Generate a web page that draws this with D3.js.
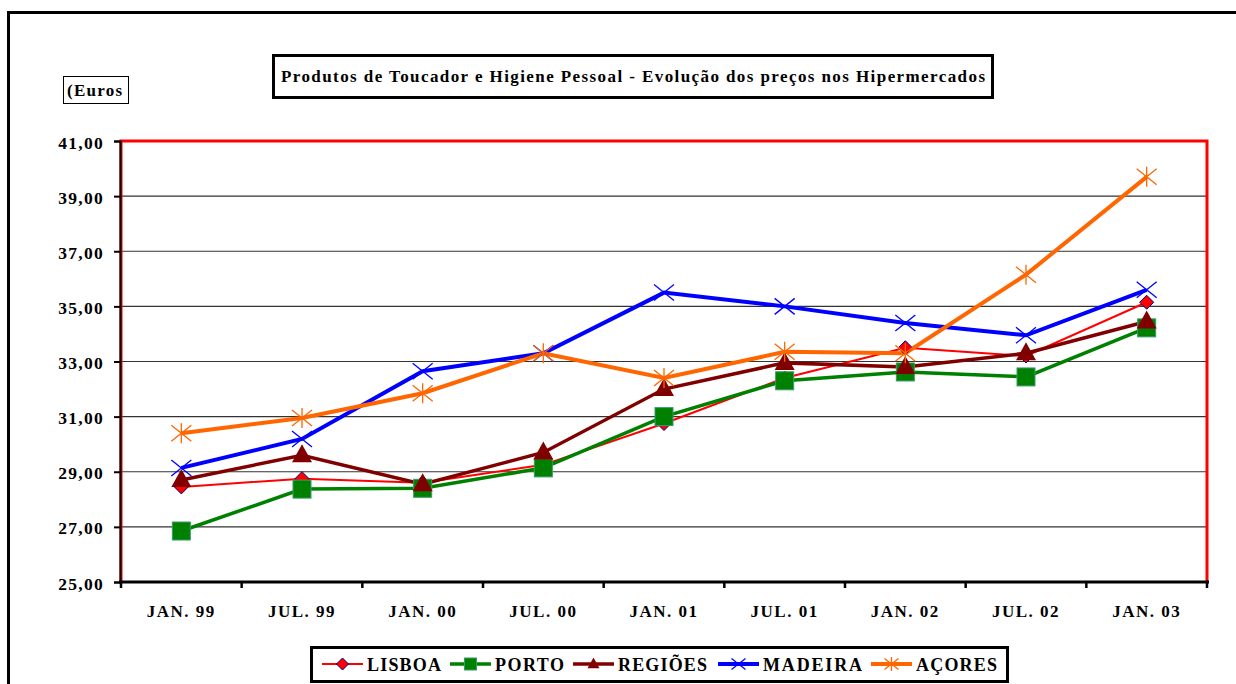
<!DOCTYPE html>
<html>
<head>
<meta charset="utf-8">
<script src="https://cdn.jsdelivr.net/npm/d3@7"></script>
<style>
	body { margin: 0; background: #fff; }
	svg text { font-family: "Liberation Serif", "Tinos", "Times New Roman", "DejaVu Serif", serif; font-weight: bold; fill: #000; }
</style>
</head>
<body>
<div id="chart"></div>
<script>
//chart data
var periods = ["JAN. 99", "JUL. 99", "JAN. 00", "JUL. 00", "JAN. 01", "JUL. 01", "JAN. 02", "JUL. 02", "JAN. 03"];
var lisboa  = [28.45, 28.75, 28.6, 29.25, 30.75, 32.4, 33.5, 33.2, 35.15];
var porto   = [26.85, 28.37, 28.4, 29.14, 31.0, 32.3, 32.62, 32.44, 34.22];
var regioes = [28.7, 29.6, 28.55, 29.7, 32.0, 32.95, 32.8, 33.3, 34.45];
var madeira = [29.14, 30.19, 32.65, 33.3, 35.5, 35.0, 34.4, 33.95, 35.6];
var acores  = [30.4, 30.95, 31.85, 33.3, 32.4, 33.35, 33.3, 36.15, 39.7];
var yTicks = [25, 27, 29, 31, 33, 35, 37, 39, 41];
var seriesNames = ["LISBOA", "PORTO", "REGIÕES", "MADEIRA", "AÇORES"];

var series = [
	{ name: seriesNames[0], values: lisboa,  color: "#ff0000", width: 2,   marker: "diamond" },
	{ name: seriesNames[1], values: porto,   color: "#008000", width: 3.5, marker: "square" },
	{ name: seriesNames[2], values: regioes, color: "#800000", width: 3.5, marker: "triangle" },
	{ name: seriesNames[3], values: madeira, color: "#0000ff", width: 4,   marker: "x" },
	{ name: seriesNames[4], values: acores,  color: "#ff6600", width: 4,   marker: "star" }
];

var width = 1236, height = 684;
var m = { top: 141, right: 29, bottom: 102, left: 121 };

var svg = d3.select('#chart').append('svg')
	.attr('width', width)
	.attr('height', height);

//outer frame (runs off the picture)
svg.append('rect')
	.attr('x', 8.5).attr('y', 12.5)
	.attr('width', 1300).attr('height', 800)
	.style('fill', 'none')
	.style('stroke', '#000')
	.style('stroke-width', 3);

var xScale = d3.scaleBand()
	.domain(periods)
	.range([m.left, width - m.right]);

var yScale = d3.scaleLinear()
	.domain([25, 41])
	.range([height - m.bottom, m.top]);

//title box
svg.append('rect')
	.attr('x', 273.5).attr('y', 55.5)
	.attr('width', 719).attr('height', 42)
	.style('fill', '#fff')
	.style('stroke', '#000')
	.style('stroke-width', 3);
svg.append('text')
	.attr('x', 281).attr('y', 82)
	.attr('textLength', 704)
	.attr('lengthAdjust', 'spacing')
	.style('font-size', '17px')
	.text('Produtos de Toucador e Higiene Pessoal - Evolução dos preços nos Hipermercados');

//unit box
svg.append('rect')
	.attr('x', 63.5).attr('y', 76.5)
	.attr('width', 65).attr('height', 27)
	.style('fill', '#fff')
	.style('stroke', '#000')
	.style('stroke-width', 1);
svg.append('text')
	.attr('x', 67).attr('y', 96)
	.attr('textLength', 55)
	.attr('lengthAdjust', 'spacing')
	.style('font-size', '17px')
	.text('(Euros');

//grid lines
svg.append('g')
	.selectAll('line')
	.data(yTicks.filter(function(d) { return d > 25 && d < 41; }))
	.enter().append('line')
	.attr('x1', m.left).attr('x2', width - m.right)
	.attr('y1', function(d) { return yScale(d); })
	.attr('y2', function(d) { return yScale(d); })
	.style('stroke', '#333')
	.style('stroke-width', 1.2);

//plot border (red)
svg.append('path')
	.attr('d', 'M' + m.left + ',' + (height - m.bottom) + 'V' + m.top + 'H' + (width - m.right) + 'V' + (height - m.bottom))
	.style('fill', 'none')
	.style('stroke', '#ff0000')
	.style('stroke-width', 3);

//y axis
var yAxis = svg.append('g')
	.attr('transform', 'translate(' + (m.left - 1) + ',0)')
	.call(d3.axisLeft(yScale).tickValues(yTicks).tickSize(6).tickPadding(10)
		.tickFormat(function(d) { return d3.format('.2f')(d).replace('.', ','); }));
yAxis.attr('font-family', null);
yAxis.select('.domain').style('stroke', '#000').style('stroke-width', 2);
yAxis.selectAll('.tick line').style('stroke', '#000').style('stroke-width', 2);
yAxis.selectAll('text')
	.attr('dy', '0.4em')
	.style('font-size', '17.5px')
	.style('letter-spacing', '1.3px');

//x axis with ticks at category boundaries
var xAxisG = svg.append('g')
	.attr('transform', 'translate(0,' + (height - m.bottom) + ')');
xAxisG.append('line')
	.attr('x1', m.left - 2).attr('x2', width - m.right + 2)
	.style('stroke', '#000')
	.style('stroke-width', 3);
xAxisG.selectAll('.xtick')
	.data(periods.concat(['end']))
	.enter().append('line')
	.attr('class', 'xtick')
	.attr('x1', function(d, i) { return m.left + i * xScale.step(); })
	.attr('x2', function(d, i) { return m.left + i * xScale.step(); })
	.attr('y1', 0).attr('y2', 6)
	.style('stroke', '#000')
	.style('stroke-width', 2.5);
xAxisG.selectAll('.xlabel')
	.data(periods)
	.enter().append('text')
	.attr('class', 'xlabel')
	.attr('x', function(d) { return xScale(d) + xScale.bandwidth() / 2; })
	.attr('y', 35)
	.attr('text-anchor', 'middle')
	.style('font-size', '17px')
	.style('letter-spacing', '1.5px')
	.text(function(d) { return d; });

//marker drawing
function drawMarker(g, type, color, size) {
	var s = size;
	if (type === 'diamond') {
		g.append('path')
			.attr('d', 'M0,' + (-s) + 'L' + s + ',0L0,' + s + 'L' + (-s) + ',0Z')
			.style('fill', '#ff0000').style('stroke', '#000080').style('stroke-width', 1);
	} else if (type === 'square') {
		g.append('rect')
			.attr('x', -s).attr('y', -s).attr('width', 2 * s).attr('height', 2 * s)
			.style('fill', '#008000').style('stroke', '#3a9a6a').style('stroke-width', 1);
	} else if (type === 'triangle') {
		g.append('path')
			.attr('d', 'M0,' + (-s * 1.1) + 'L' + s + ',' + (s * 0.7) + 'L' + (-s) + ',' + (s * 0.7) + 'Z')
			.style('fill', '#800000');
	} else if (type === 'x') {
		g.append('path')
			.attr('d', 'M' + (-s) + ',' + (-s * 0.8) + 'L' + s + ',' + (s * 0.8) + 'M' + (-s) + ',' + (s * 0.8) + 'L' + s + ',' + (-s * 0.8))
			.style('stroke', color).style('stroke-width', 1.3).style('fill', 'none');
	} else if (type === 'star') {
		g.append('path')
			.attr('d', 'M' + (-s) + ',' + (-s * 0.8) + 'L' + s + ',' + (s * 0.8) + 'M' + (-s) + ',' + (s * 0.8) + 'L' + s + ',' + (-s * 0.8) + 'M0,' + (-s) + 'V' + s)
			.style('stroke', color).style('stroke-width', 1.3).style('fill', 'none');
	}
}

var markerSize = { diamond: 7, square: 9, triangle: 10, x: 10, star: 10 };

var line = d3.line()
	.x(function(d, i) { return xScale(periods[i]) + xScale.bandwidth() / 2; })
	.y(function(d) { return yScale(d); });

var seriesG = svg.append('g');
series.forEach(function(s) {
	seriesG.append('path')
		.datum(s.values)
		.attr('d', line)
		.style('fill', 'none')
		.style('stroke', s.color)
		.style('stroke-width', s.width);
});
series.forEach(function(s) {
	s.values.forEach(function(v, i) {
		var g = seriesG.append('g')
			.attr('transform', 'translate(' + (xScale(periods[i]) + xScale.bandwidth() / 2) + ',' + yScale(v) + ')');
		drawMarker(g, s.marker, s.color, markerSize[s.marker]);
	});
});

//legend
var legend = svg.append('g');
legend.append('rect')
	.attr('x', 311.5).attr('y', 647.5)
	.attr('width', 696).attr('height', 34)
	.style('fill', '#fff')
	.style('stroke', '#000')
	.style('stroke-width', 3);

var legendX = [322, 450, 573, 718, 871];
var legendTextLen = [74, 69, 89, 99, 81];
series.forEach(function(s, i) {
	var item = legend.append('g').attr('transform', 'translate(' + legendX[i] + ',664)');
	item.append('line')
		.attr('x1', 0).attr('x2', 41)
		.style('stroke', s.color)
		.style('stroke-width', s.width);
	var mk = item.append('g').attr('transform', 'translate(20.5,0)');
	drawMarker(mk, s.marker, s.color, s.marker === 'x' || s.marker === 'star' ? 7 : 6);
	item.append('text')
		.attr('x', 45).attr('y', 7)
		.attr('textLength', legendTextLen[i])
		.attr('lengthAdjust', 'spacing')
		.style('font-size', '18px')
		.text(s.name);
});
</script>
</body>
</html>
